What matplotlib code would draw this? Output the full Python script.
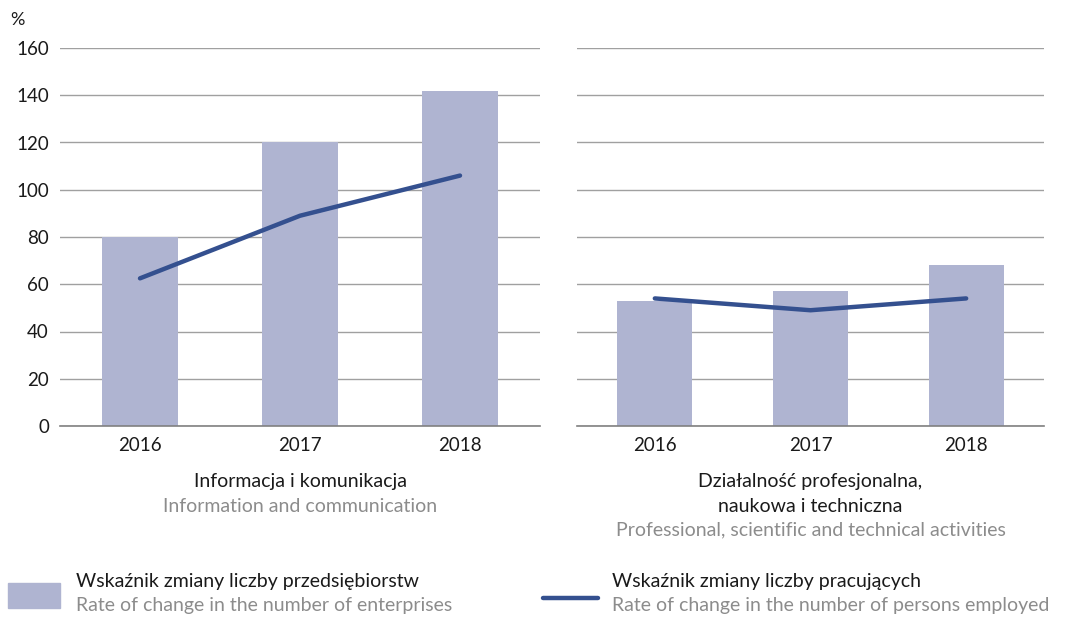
import numpy as np
import matplotlib.pyplot as plt
from matplotlib.patches import Rectangle
from matplotlib.lines import Line2D

plt.rcParams['font.family'] = ['Lato', 'DejaVu Sans']

years = ["2016", "2017", "2018"]
enterprises_ict = [80, 120, 142]
employed_ict = [62.5, 89, 106]
enterprises_prof = [53, 57, 68]
employed_prof = [54, 49, 54]

bar_color = "#AFB4D1"
line_color = "#34508F"
grid_color = "#A0A0A0"
gray_text = "#8C8C8C"
dark_text = "#1a1a1a"
fs = 14

fig = plt.figure(figsize=(10.69, 6.17), dpi=100)
ax1 = fig.add_axes([60 / 1069, 1 - 426 / 617, 480 / 1069, 378 / 617])
ax2 = fig.add_axes([577 / 1069, 1 - 426 / 617, 467 / 1069, 378 / 617])

x_pos = np.arange(len(years))
for ax, bars, line in [(ax1, enterprises_ict, employed_ict),
                       (ax2, enterprises_prof, employed_prof)]:
    ax.bar(x_pos, bars, width=0.48, color=bar_color, zorder=2)
    ax.plot(x_pos, line, color=line_color, lw=3.2, solid_capstyle="round", zorder=3)
    ax.set_xlim(-0.5, 2.5)
    ax.set_ylim(0, 160)
    ax.set_yticks(np.arange(0, 161, 20))
    ax.yaxis.grid(True, color=grid_color, lw=1, zorder=1)
    for s in ["top", "right", "left"]:
        ax.spines[s].set_visible(False)
    ax.spines["bottom"].set_color("#808080")
    ax.spines["bottom"].set_linewidth(1.2)
    ax.set_xticks(x_pos)
    ax.set_xticklabels(years)
    ax.tick_params(axis="both", length=0, labelsize=fs - 0.5, colors=dark_text)
    ax.tick_params(axis="x", pad=8)

ax2.tick_params(axis="y", labelleft=False)
ax1.tick_params(axis="y", pad=8)

fig.text(10 / 1069, 1 - 20 / 617, "%", fontsize=fs - 1, va="center", ha="left", color=dark_text)

# category captions
cx1 = (60 + 540) / 2 / 1069
cx2 = (577 + 1044) / 2 / 1069
fig.text(cx1, 1 - 482 / 617, "Informacja i komunikacja", ha="center", va="center", fontsize=fs, color=dark_text)
fig.text(cx1, 1 - 506 / 617, "Information and communication", ha="center", va="center", fontsize=fs, color=gray_text)
fig.text(cx2, 1 - 482 / 617, "Działalność profesjonalna,", ha="center", va="center", fontsize=fs, color=dark_text)
fig.text(cx2, 1 - 506 / 617, "naukowa i techniczna", ha="center", va="center", fontsize=fs, color=dark_text)
fig.text(cx2, 1 - 530 / 617, "Professional, scientific and technical activities", ha="center", va="center", fontsize=fs, color=gray_text)

# legend
fig.patches.append(Rectangle((8 / 1069, 1 - 608 / 617), 52 / 1069, 25 / 617,
                             transform=fig.transFigure, color=bar_color))
fig.text(76 / 1069, 1 - 582 / 617, "Wskaźnik zmiany liczby przedsiębiorstw", ha="left", va="center", fontsize=fs, color=dark_text)
fig.text(76 / 1069, 1 - 606 / 617, "Rate of change in the number of enterprises", ha="left", va="center", fontsize=fs, color=gray_text)
fig.lines.append(Line2D([543 / 1069, 598 / 1069], [1 - 598 / 617, 1 - 598 / 617],
                        transform=fig.transFigure, color=line_color, lw=3.2, solid_capstyle="round"))
fig.text(612 / 1069, 1 - 582 / 617, "Wskaźnik zmiany liczby pracujących", ha="left", va="center", fontsize=fs, color=dark_text)
fig.text(612 / 1069, 1 - 606 / 617, "Rate of change in the number of persons employed", ha="left", va="center", fontsize=fs, color=gray_text)

fig.savefig("out.png", dpi=100)
